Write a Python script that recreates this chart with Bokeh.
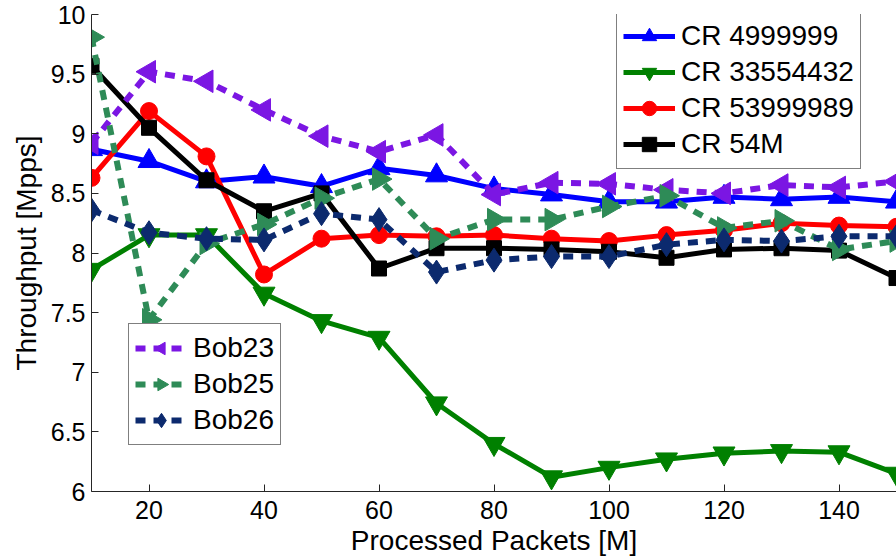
import math
from bokeh.plotting import figure
from bokeh.models import Legend, LegendItem, FixedTicker, Range1d
from bokeh.embed import file_html
from bokeh.resources import INLINE

packets = [10, 20, 30, 40, 50, 60, 70, 80, 90, 100, 110, 120, 130, 140, 150]

cr_4999999 = [8.87, 8.77, 8.60, 8.64, 8.56, 8.71, 8.65, 8.54, 8.49, 8.43, 8.43, 8.47, 8.45, 8.47, 8.43]
cr_33554432 = [7.86, 8.15, 8.15, 7.66, 7.43, 7.29, 6.74, 6.40, 6.12, 6.20, 6.27, 6.32, 6.34, 6.33, 6.15]
cr_53999989 = [8.63, 9.19, 8.81, 7.82, 8.12, 8.15, 8.14, 8.15, 8.12, 8.10, 8.15, 8.19, 8.25, 8.23, 8.22]
cr_54m = [9.57, 9.05, 8.61, 8.35, 8.50, 7.87, 8.04, 8.04, 8.03, 8.01, 7.96, 8.03, 8.04, 8.02, 7.79]
bob23 = [8.92, 9.52, 9.44, 9.20, 8.98, 8.85, 8.99, 8.49, 8.59, 8.58, 8.53, 8.50, 8.57, 8.55, 8.60]
bob25 = [9.81, 7.44, 8.08, 8.24, 8.46, 8.62, 8.12, 8.28, 8.28, 8.39, 8.48, 8.21, 8.27, 8.03, 8.10]
bob26 = [8.36, 8.17, 8.12, 8.11, 8.33, 8.28, 7.84, 7.94, 7.97, 7.97, 8.07, 8.11, 8.10, 8.14, 8.14]

y_ticks = [6, 6.5, 7, 7.5, 8, 8.5, 9, 9.5, 10]
y_tick_labels = ["6", "6.5", "7", "7.5", "8", "8.5", "9", "9.5", "10"]
x_ticks = [20, 40, 60, 80, 100, 120, 140]

FONT = "Liberation Sans"

p = figure(frame_width=805, frame_height=477, output_backend="svg", toolbar_location=None,
           x_range=Range1d(10, 150), y_range=Range1d(6, 10),
           min_border_left=91, min_border_right=0, min_border_top=14, min_border_bottom=68)
p.outline_line_color = None
p.grid.visible = False
p.background_fill_color = "white"
p.border_fill_color = "white"

for ax in (p.xaxis[0], p.yaxis[0]):
    ax.axis_line_color = "#262626"
    ax.axis_line_width = 1
    ax.major_tick_line_color = "#262626"
    ax.major_tick_in = 7
    ax.major_tick_out = 0
    ax.minor_tick_line_color = None
    ax.major_label_text_font = FONT
    ax.major_label_text_font_size = "25px"
    ax.major_label_text_color = "black"
    ax.axis_label_text_font = FONT
    ax.axis_label_text_font_size = "28px"
    ax.axis_label_text_font_style = "normal"
    ax.axis_label_text_color = "black"

p.xaxis.ticker = FixedTicker(ticks=x_ticks)
p.yaxis.ticker = FixedTicker(ticks=y_ticks)
p.yaxis.major_label_overrides = {float(t): l for t, l in zip(y_ticks, y_tick_labels)}
p.xaxis.axis_label = "Processed Packets [M]"
p.yaxis.axis_label = "Throughput [Mpps]"
p.xaxis.major_label_standoff = 9
p.xaxis.axis_label_standoff = 3
p.yaxis.major_label_standoff = 6
p.yaxis.axis_label_standoff = 6

series = [
    ("CR 4999999", cr_4999999, "#0000FF", "solid", 5, "triangle", 22),
    ("CR 33554432", cr_33554432, "#008000", "solid", 5, "inverted_triangle", 22),
    ("CR 53999989", cr_53999989, "#FF0000", "solid", 5, "circle", 17),
    ("CR 54M", cr_54m, "#000000", "solid", 5, "square", 15),
    ("Bob23", bob23, "#7B16E3", "10 8", 6, "left", 13),
    ("Bob25", bob25, "#2E8B57", "10 8", 6, "right", 13),
    ("Bob26", bob26, "#0C2A6E", "10 8", 6, "diamond", 24),
]

items = {}
for name, ys, color, dash, lw, marker, size in series:
    ln = p.line(packets, ys, line_color=color, line_width=lw, line_dash=dash)
    if marker in ("left", "right"):
        ang = math.pi / 2 if marker == "left" else -math.pi / 2
        sc = p.ngon(packets, ys, radius=size, radius_units="screen", n=3, angle=ang,
                    fill_color=color, line_color=color, line_width=1)
    else:
        sc = p.scatter(packets, ys, marker=marker, size=size,
                       fill_color=color, line_color=color, line_width=1)
    items[name] = LegendItem(label=name, renderers=[ln, sc])

def make_legend(names, loc):
    return Legend(items=[items[n] for n in names], location=loc,
                  label_text_font=FONT, label_text_font_size="28px",
                  label_text_color="black",
                  glyph_width=52, glyph_height=36, label_height=30,
                  spacing=0, padding=6, margin=0, label_standoff=6,
                  border_line_color="black", border_line_width=1.5,
                  background_fill_color="white", background_fill_alpha=1.0)

p.add_layout(make_legend(["CR 4999999", "CR 33554432", "CR 53999989", "CR 54M"], (525, 322)))
p.add_layout(make_legend(["Bob23", "Bob25", "Bob26"], (37, 46)))

open("out.html", "w").write(file_html(p, INLINE))
